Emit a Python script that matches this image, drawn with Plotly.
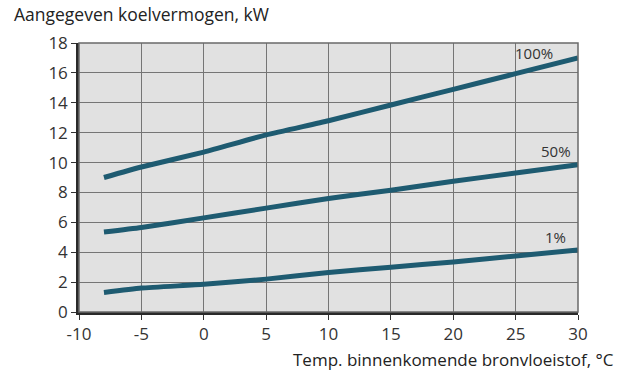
import plotly.graph_objects as go

# Incoming source fluid temperature (°C)
temps = [-8, -5, 0, 5, 10, 15, 20, 25, 30]

# Cooling capacity (kW) per compressor speed
cap_100 = [9.0, 9.7, 10.7, 11.85, 12.8, 13.85, 14.9, 15.95, 17.0]
cap_50 = [5.35, 5.65, 6.3, 6.95, 7.6, 8.15, 8.75, 9.3, 9.85]
cap_1 = [1.3, 1.6, 1.85, 2.2, 2.65, 3.0, 3.35, 3.75, 4.15]

series_labels = ["100%", "50%", "1%"]
label_pos = [(26.5, 17.35), (28.2, 10.75), (28.2, 5.0)]

x_ticks = [-10, -5, 0, 5, 10, 15, 20, 25, 30]
x_ticktext = ["-10", "-5", "0", "5", "10", "15", "20", "25", "30"]
y_ticks = [0, 2, 4, 6, 8, 10, 12, 14, 16, 18]

line_color = "#1e5b71"
font_family = "Open Sans, Noto Sans, sans-serif"

fig = go.Figure()
for ys in (cap_100, cap_50, cap_1):
    fig.add_trace(go.Scatter(
        x=temps, y=ys, mode="lines",
        line=dict(color=line_color, width=5, shape="spline", smoothing=0.5),
        showlegend=False, hoverinfo="skip",
    ))

for text, (lx, ly) in zip(series_labels, label_pos):
    fig.add_annotation(x=lx, y=ly, text=text, showarrow=False,
                       xanchor="center", yanchor="middle",
                       font=dict(size=15, color="#333333", family=font_family))

fig.add_annotation(xref="paper", yref="paper", x=-0.135, y=1.055,
                   xanchor="left", yanchor="bottom", showarrow=False,
                   text="Aangegeven koelvermogen, kW",
                   font=dict(size=17.5, color="#222222", family=font_family))
fig.add_annotation(xref="paper", yref="paper", x=1.077, y=-0.128,
                   xanchor="right", yanchor="top", showarrow=False,
                   text="Temp. binnenkomende bronvloeistof, °C",
                   font=dict(size=17, color="#222222", family=font_family))

fig.update_xaxes(range=[-10, 30], tickvals=x_ticks, ticktext=x_ticktext,
                 ticks="outside", ticklen=5,
                 tickcolor="#333333", showgrid=True, gridcolor="#757575", gridwidth=1.3,
                 showline=True, linecolor="#2a2a2a", linewidth=2.5, mirror=False,
                 zeroline=False, fixedrange=True,
                 tickfont=dict(size=17, color="#333333", family=font_family))
fig.update_yaxes(range=[0, 18], tickvals=y_ticks, ticks="outside", ticklen=5,
                 tickcolor="#333333", showgrid=True, gridcolor="#757575", gridwidth=1.3,
                 showline=True, linecolor="#2a2a2a", linewidth=2.5, mirror=False,
                 zeroline=False, fixedrange=True,
                 tickfont=dict(size=17, color="#333333", family=font_family))

# light frame on top and right edges
fig.add_shape(type="rect", xref="paper", yref="paper", x0=0, y0=0, x1=1, y1=1,
              line=dict(color="#6a6a6a", width=1.5), layer="above")

fig.update_layout(
    width=627, height=372,
    margin=dict(l=79, r=49, t=43, b=60),
    plot_bgcolor="#e1e1e1", paper_bgcolor="#ffffff",
)

fig.write_html("out.html")
